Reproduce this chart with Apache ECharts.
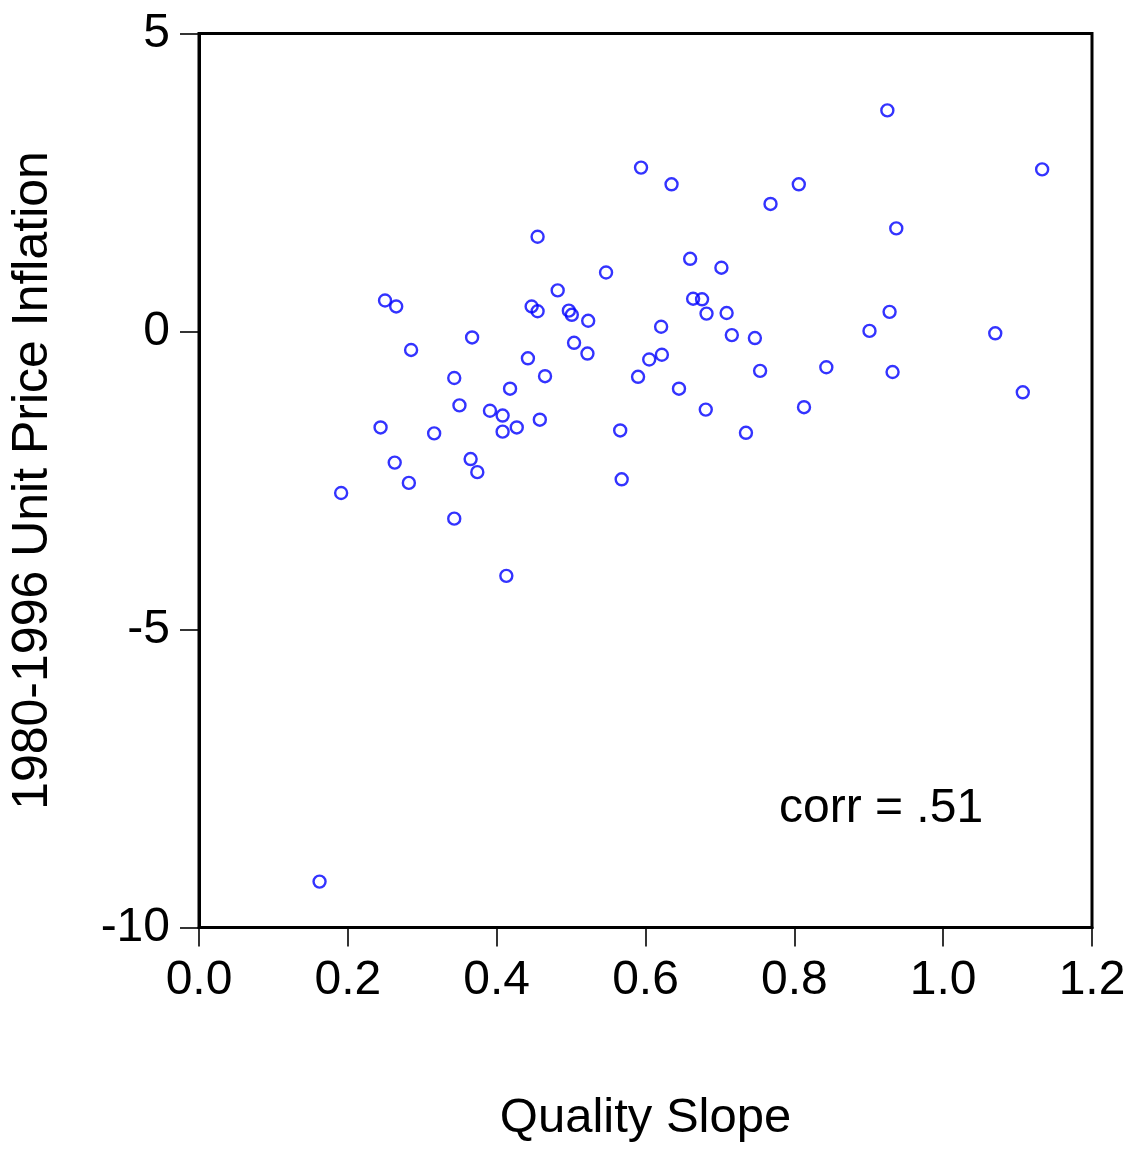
<!DOCTYPE html>
<html>
<head>
<meta charset="utf-8">
<script src="https://cdn.jsdelivr.net/npm/echarts@6/dist/echarts.min.js"></script>
<style>
  html, body { margin: 0; padding: 0; background: #fff; }
  #chart { width: 1137px; height: 1149px; }
</style>
</head>
<body>
<div id="chart"></div>
<script>
// quality slope (x) and 1980-1996 unit price inflation (y)
var qualitySlope = [
    0.925, 0.594, 1.133, 0.635, 0.806, 0.768, 0.937, 0.455, 0.660, 0.702,
    0.547, 0.482, 0.250, 0.265, 0.664, 0.676, 0.447, 0.455, 0.497, 0.501,
    0.682, 0.709, 0.928, 0.523, 0.621, 0.901, 1.070, 0.367, 0.716, 0.747,
    0.504, 0.285, 0.522, 0.622, 0.605, 0.442, 0.843, 0.754, 0.932, 0.465,
    0.343, 0.590, 0.418, 0.645, 1.107, 0.350, 0.391, 0.408, 0.813, 0.681,
    0.458, 0.244, 0.427, 0.566, 0.316, 0.408, 0.735, 0.365, 0.263, 0.374,
    0.568, 0.282, 0.191, 0.343, 0.413, 0.162
];
var priceInflation = [
    3.71, 2.75, 2.72, 2.47, 2.47, 2.14, 1.73, 1.59, 1.22, 1.07,
    0.99, 0.69, 0.52, 0.42, 0.55, 0.54, 0.42, 0.34, 0.35, 0.28,
    0.30, 0.31, 0.33, 0.18, 0.08, 0.01, -0.03, -0.10, -0.06, -0.11,
    -0.19, -0.31, -0.37, -0.39, -0.47, -0.45, -0.60, -0.66, -0.68, -0.75,
    -0.78, -0.76, -0.96, -0.96, -1.02, -1.24, -1.33, -1.41, -1.27, -1.31,
    -1.48, -1.61, -1.61, -1.66, -1.71, -1.68, -1.70, -2.14, -2.20, -2.36,
    -2.48, -2.54, -2.71, -3.14, -4.10, -9.23
];
var corrLabel = 'corr = .51';

var points = [];
for (var i = 0; i < qualitySlope.length; i++) {
    points.push([qualitySlope[i], priceInflation[i]]);
}

var FONT = '"Liberation Sans", Arial, Helvetica, sans-serif';

var myChart = echarts.init(document.getElementById('chart'));

var option = {
    animation: false,
    grid: {
        left: 199,
        top: 33.5,
        right: 45,
        bottom: 221.5,
        outerBoundsMode: 'none',
        containLabel: false,
        show: true,
        borderColor: '#000',
        borderWidth: 3
    },
    xAxis: {
        type: 'value',
        min: 0,
        max: 1.2,
        interval: 0.2,
        name: 'Quality Slope',
        nameLocation: 'middle',
        nameGap: 166,
        nameTextStyle: { color: '#000', fontSize: 49, fontFamily: FONT },
        axisLine: { show: true, onZero: false, lineStyle: { color: '#000', width: 3 } },
        axisTick: { show: true, length: 19, lineStyle: { color: '#000', width: 1.6 } },
        axisLabel: {
            color: '#000', fontSize: 48, fontFamily: FONT, margin: 29,
            formatter: function (v) { return v.toFixed(1); }
        },
        splitLine: { show: false }
    },
    yAxis: {
        type: 'value',
        min: -10,
        max: 5,
        interval: 5,
        name: '1980-1996 Unit Price Inflation',
        nameLocation: 'middle',
        nameGap: 141,
        nameTextStyle: { color: '#000', fontSize: 50, fontFamily: FONT },
        axisLine: { show: true, onZero: false, lineStyle: { color: '#000', width: 3 } },
        axisTick: { show: true, length: 19, lineStyle: { color: '#000', width: 1.6 } },
        axisLabel: { color: '#000', fontSize: 48, fontFamily: FONT, margin: 29 },
        splitLine: { show: false }
    },
    graphic: [{
        type: 'text',
        left: 779,
        top: 785,
        style: {
            text: corrLabel,
            fill: '#000',
            font: '48px ' + FONT
        }
    }],
    series: [{
        type: 'scatter',
        data: points,
        symbol: 'circle',
        symbolSize: 12,
        itemStyle: {
            color: 'rgba(0,0,0,0)',
            borderColor: '#0000ff',
            borderWidth: 2.4
        }
    }]
};

myChart.setOption(option);
</script>
</body>
</html>
